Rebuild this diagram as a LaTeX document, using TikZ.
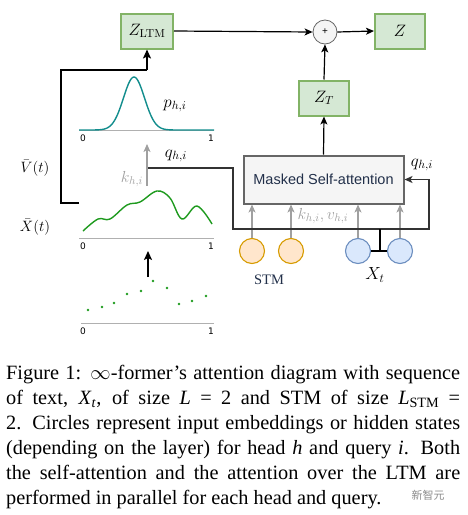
\documentclass[tikz,border=0pt]{standalone}
\usepackage{fix-cm}
\usepackage[no-math]{fontspec}
\setmainfont{Liberation Serif}
\newfontfamily\safont{Liberation Sans}
\newfontfamily\djfont{DejaVu Sans}
\newfontfamily\cjk{Noto Sans CJK SC}
\usetikzlibrary{arrows.meta}
\definecolor{gfill}{HTML}{D5E8D4}
\definecolor{gborder}{HTML}{82B366}
\definecolor{safill}{HTML}{F5F5F5}
\definecolor{saborder}{HTML}{666666}
\definecolor{ofill}{HTML}{FFE6CC}
\definecolor{oborder}{HTML}{D79B00}
\definecolor{bfill}{HTML}{DAE8FC}
\definecolor{bborder}{HTML}{6C8EBF}
\definecolor{teal2}{HTML}{138D8D}
\definecolor{curvegreen}{HTML}{1E9A1E}
\definecolor{axisgray}{HTML}{B0B0B0}
\definecolor{lblgray}{HTML}{A0A0A0}
\definecolor{navy}{HTML}{22304A}
\begin{document}
\begin{tikzpicture}[x=1pt,y=-1pt,
  gbox/.style={draw=gborder, fill=gfill, line width=2pt, minimum width=52pt, minimum height=35pt, inner sep=0pt, font=\fontsize{16.5}{18}\selectfont},
  sabox/.style={draw=saborder, fill=safill, line width=2pt, minimum width=160pt, minimum height=48pt, inner sep=0pt, font=\safont\fontsize{14.5}{16}\selectfont, text=navy},
  ocirc/.style={circle, draw=oborder, fill=ofill, line width=1.1pt, minimum size=25pt, inner sep=0pt},
  bcirc/.style={circle, draw=bborder, fill=bfill, line width=1.1pt, minimum size=25pt, inner sep=0pt},
  pcirc/.style={circle, draw=saborder, fill=safill, line width=0.8pt, minimum size=24pt, inner sep=0pt, font=\safont\fontsize{10}{10}\selectfont},
  arr/.style={-{Stealth[length=8pt,width=7pt,inset=2pt]}, line width=1.2pt},
  tarr/.style={-{Stealth[length=9pt,width=8pt,inset=2pt]}, line width=2pt},
  garr/.style={-{Stealth[length=8pt,width=7pt,inset=2pt]}, line width=1.2pt, draw=lblgray},
  wire/.style={line width=1.3pt, draw=black!80},
  axis/.style={line width=1pt, draw=axisgray},
  tick/.style={font=\djfont\fontsize{9}{10}\selectfont, inner sep=0pt},
  mlbl/.style={font=\fontsize{17}{19}\selectfont, inner sep=0pt},
  slbl/.style={font=\fontsize{16}{18}\selectfont, inner sep=0pt}
]
\useasboundingbox (0,0) rectangle (467,515);

% boxes
\node[gbox] (zltm) at (147,31) {$Z_{\mathrm{LTM}}$};
\node[pcirc] (plus) at (325,32) {+};
\node[gbox, minimum width=50pt] (z) at (400,31) {$Z$};
\node[gbox, minimum width=50pt] (zt) at (324,98) {$Z_T$};
\node[sabox] (sa) at (323.5,179.5) {Masked Self-attention};

% circles
\node[ocirc] (s1) at (252,251) {};
\node[ocirc] (s2) at (291,251) {};
\node[bcirc] (x1) at (358,251) {};
\node[bcirc] (x2) at (400,251) {};

% top connectors
\draw[arr] (zltm.east) -- (plus.west);
\draw[arr] (plus.east) -- (z.west);
\draw[arr] (zt.north) -- (plus.south);
\draw[arr] (sa.north) -- (zt.south);

% gray arrows into self-attention
\foreach \c in {s1,s2,x1,x2}{
  \draw[garr] (\c.north) -- (\c.north |- sa.south);
}

% q line
\coordinate (qstart) at (148,168);
\coordinate (qa) at (233,168);
\coordinate (qb) at (233,229);
\coordinate (qc) at (429,229);
\draw[wire, -{Stealth[length=8pt,width=7pt,inset=2pt]}] (qstart) -- (qa) -- (qb) -- (qc) |- (sa.east);

% X_t connector
\coordinate (xj) at (380,251);
\draw[line width=1.8pt] (x1.east) -- (x2.west);
\draw[line width=1.8pt] (xj) -- (xj |- qc);

% V(t) line to LTM
\coordinate (vbot) at (79,203);
\coordinate (vcorner1) at (61,203);
\coordinate (vcorner2) at (61,70);
\coordinate (vtop) at (147,70);
\draw[line width=1.3pt] (vbot) -- (vcorner1) -- (vcorner2) -- (vtop);
\draw[tarr] (vtop) -- (zltm.south);

% k arrow
\coordinate (kbot) at (147,186);
\coordinate (ktop) at (147,144);
\draw[garr] (kbot) -- (ktop);

% arrow from dots to curve
\coordinate (dbot) at (148,277);
\coordinate (dtop) at (148,251);
\draw[tarr] (dbot) -- (dtop);

% gaussian
\draw[axis] (79,130) -- (214,130);
\draw[teal2, line width=1.4pt] plot[domain=79:214, samples=120] (\x, {130-53*exp(-((\x-134)/10.5)*((\x-134)/10.5)/2)});
\node[tick] at (83,138) {0};
\node[tick] at (211,138) {1};

% wiggly curve
\draw[axis] (79,238) -- (214,238);
\draw[curvegreen, line width=1.4pt] plot[smooth, tension=0.6] coordinates {(83,231) (98,219) (110,219) (127,205) (140,202) (157,191) (170,198) (182,219) (197,206) (212,224)};
\node[tick] at (83,246) {0};
\node[tick] at (211,246) {1};

% dots
\draw[axis] (81,323) -- (214,323);
\foreach \p in {(88,310),(102,307),(114,303),(127,294),(141,291),(153,281),(167,288),(179,304),(192,301),(206,296)}{
  \fill[curvegreen] \p circle (1.4pt);
}
\node[tick] at (83,331) {0};
\node[tick] at (211,331) {1};

% labels
\node[mlbl] at (175,106) {$p_{h,i}$};
\node[font=\fontsize{15}{17}\selectfont, inner sep=0pt] at (35,168) {$\bar V(t)$};
\node[font=\fontsize{15}{17}\selectfont, inner sep=0pt] at (35,227) {$\bar X(t)$};
\node[mlbl] at (176,156) {$q_{h,i}$};
\node[slbl, text=lblgray] at (132,179) {$k_{h,i}$};
\node[mlbl] at (422,165) {$q_{h,i}$};
\node[slbl, text=lblgray] at (323,216) {$k_{h,i}, v_{h,i}$};
\node[font=\fontsize{14.5}{16}\selectfont, text=navy, inner sep=0pt] at (269,280) {STM};
\node[font=\fontsize{17.5}{19}\selectfont, inner sep=0pt] at (375,275) {$X_t$};

% caption
\node[anchor=base west, inner sep=0pt, text width=454pt, align=justify, font=\fontsize{20.3}{25}\selectfont] (cap) at (6,379) {%
Figure 1: $\infty$-former’s attention diagram with sequence\linebreak
of text, \textit{X}\textsubscript{\textit{t}}, of size \textit{L} = 2 and STM of size \textit{L}\textsubscript{STM} =\linebreak
2. Circles represent input embeddings or hidden states\linebreak
(depending on the layer) for head \textit{h} and query \textit{i}. Both\linebreak
the self-attention and the attention over the LTM are\linebreak
performed in parallel for each head and query.};
\node[font=\cjk\fontsize{11}{12}\selectfont, text=black!45, inner sep=0pt] (wm) at (428,495) {新智元};
\end{tikzpicture}
\end{document}
